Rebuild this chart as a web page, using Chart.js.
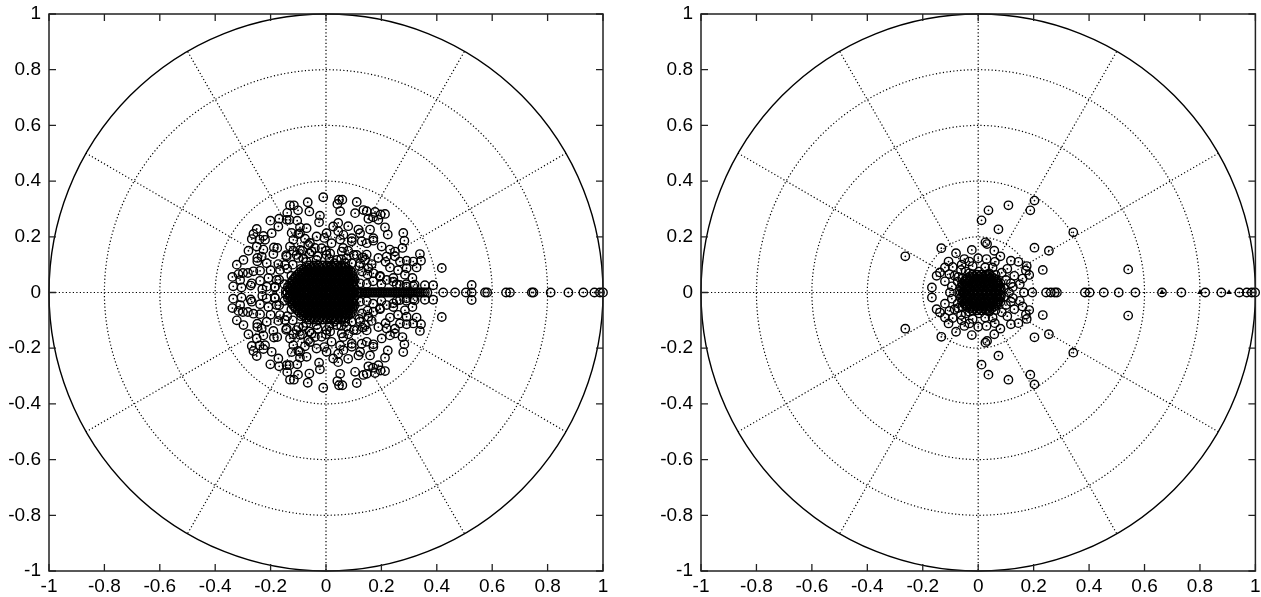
<!DOCTYPE html>
<html>
<head>
<meta charset="utf-8">
<script src="https://cdn.jsdelivr.net/npm/chart.js@4.4.0/dist/chart.umd.min.js"></script>
<style>
  body { margin: 0; background: #fff; width: 1261px; height: 597px; overflow: hidden; position: relative; }
  canvas { position: absolute; top: 0; }
  #left { left: 0; }
  #right { left: 640px; }
</style>
</head>
<body>
<canvas id="left" width="620" height="597"></canvas>
<canvas id="right" width="621" height="597"></canvas>
<script>
const tickValues = [-1, -0.8, -0.6, -0.4, -0.2, 0, 0.2, 0.4, 0.6, 0.8, 1]
const gridRadii = [0.2, 0.4, 0.6, 0.8]
const spokeAngles = [0, 30, 60, 90, 120, 150, 180, 210, 240, 270, 300, 330]

// left plot, points above the real axis
const leftUpper = [
  [-0.010,0.342],[-0.066,0.324],[-0.130,0.313],[-0.116,0.313],[-0.101,0.295],[-0.060,0.291],[-0.140,0.286],
  [-0.022,0.276],[-0.025,0.252],[-0.169,0.265],[-0.132,0.261],[-0.104,0.258],[-0.201,0.258],[-0.094,0.234],
  [-0.250,0.228],[-0.262,0.210],[-0.268,0.192],[-0.240,0.190],[-0.226,0.203],[-0.124,0.214],[-0.100,0.210],
  [-0.188,0.162],[-0.176,0.160],[-0.076,0.193],[-0.058,0.178],[-0.006,0.196],[-0.226,0.154],[-0.280,0.150],
  [-0.190,0.138],[-0.144,0.134],[-0.248,0.124],[-0.248,0.112],[-0.172,0.102],[-0.100,0.124],[-0.118,0.150],
  [-0.085,0.150],[-0.060,0.140],[-0.322,0.100],[-0.338,0.056],[-0.316,0.066],[-0.300,0.070],[-0.282,0.070],
  [-0.262,0.076],[-0.238,0.078],[-0.208,0.052],[-0.169,0.046],[-0.335,0.022],[-0.305,0.018],[-0.272,0.025],
  [-0.238,0.042],[-0.200,0.080],[-0.140,0.085],[-0.125,0.060],[-0.150,0.030],[-0.185,0.018],[-0.230,0.012],
  [-0.070,0.110],[-0.030,0.130],[-0.040,0.160],[0.000,0.150],[-0.120,0.100],[-0.090,0.085],
  [0.047,0.333],[0.059,0.333],[0.111,0.325],[0.041,0.318],[0.051,0.292],[0.105,0.285],[0.135,0.296],
  [0.147,0.292],[0.177,0.289],[0.197,0.280],[0.213,0.282],[0.044,0.250],[0.080,0.238],[0.117,0.226],
  [0.153,0.265],[0.170,0.270],[0.189,0.261],[0.213,0.234],[0.159,0.226],[0.044,0.220],[0.051,0.190],
  [0.093,0.184],[0.129,0.184],[0.171,0.186],[0.223,0.208],[0.279,0.214],[0.283,0.186],[0.276,0.160],
  [0.231,0.154],[0.062,0.160],[0.080,0.150],[0.100,0.135],[0.147,0.136],[0.132,0.126],[0.189,0.124],
  [0.165,0.102],[0.249,0.130],[0.231,0.090],[0.291,0.114],[0.339,0.138],[0.343,0.114],[0.327,0.090],
  [0.285,0.064],[0.312,0.052],[0.357,0.026],[0.387,0.026],[0.418,0.088],[0.195,0.060],[0.243,0.052],
  [0.255,0.030],[0.120,0.095],[0.130,0.075],[0.150,0.065],[0.015,0.140],[0.012,0.120],[0.030,0.105],
  [0.055,0.120],[0.070,0.105],[0.526,0.027],[0.200,0.030],[0.170,0.040],[0.290,0.030],[0.320,0.028],
  [0.215,0.110],[0.260,0.080],
  [-0.106,0.135],[-0.094,0.153],[-0.082,0.123],[-0.064,0.171],[-0.052,0.147],[-0.034,0.117],[-0.016,0.159],
  [0.002,0.135],[0.020,0.177],[0.039,0.117],[0.057,0.147],[0.075,0.123],[0.093,0.105],[0.111,0.135],
  [0.123,0.105],[0.141,0.117],[0.153,0.087],[0.171,0.069],[0.195,0.057],[0.219,0.045],[0.243,0.039],
  [0.267,0.027],[0.291,0.021],[0.315,0.023],[0.075,0.045],[0.099,0.039],[0.123,0.033],[0.147,0.031],
  [-0.148,0.099],[-0.166,0.081],[-0.178,0.045],[-0.184,0.021],[-0.142,0.129],[-0.130,0.165],[-0.118,0.189],
  [-0.094,0.213],[-0.070,0.231],[-0.034,0.201],[0.002,0.213],[0.026,0.237],[0.063,0.207],[0.093,0.195],
  [0.123,0.213],[0.147,0.177],[0.171,0.195],[0.201,0.165],[0.219,0.129],[0.249,0.147],[0.267,0.111],
  [0.291,0.087],[0.315,0.111],[-0.214,0.105],[-0.232,0.129],[-0.250,0.165],[-0.220,0.189],[-0.196,0.213],
  [-0.172,0.237],[-0.142,0.261],[-0.298,0.117],[-0.310,0.045],[-0.268,0.033],[-0.214,0.021]
]
// left plot, conjugate points below the real axis
const leftLower = [
  [-0.010,-0.342],[-0.066,-0.324],[-0.130,-0.313],[-0.116,-0.313],[-0.101,-0.295],[-0.060,-0.291],[-0.140,-0.286],
  [-0.022,-0.276],[-0.025,-0.252],[-0.169,-0.265],[-0.132,-0.261],[-0.104,-0.258],[-0.201,-0.258],[-0.094,-0.234],
  [-0.250,-0.228],[-0.262,-0.210],[-0.268,-0.192],[-0.240,-0.190],[-0.226,-0.203],[-0.124,-0.214],[-0.100,-0.210],
  [-0.188,-0.162],[-0.176,-0.160],[-0.076,-0.193],[-0.058,-0.178],[-0.006,-0.196],[-0.226,-0.154],[-0.280,-0.150],
  [-0.190,-0.138],[-0.144,-0.134],[-0.248,-0.124],[-0.248,-0.112],[-0.172,-0.102],[-0.100,-0.124],[-0.118,-0.150],
  [-0.085,-0.150],[-0.060,-0.140],[-0.322,-0.100],[-0.338,-0.056],[-0.316,-0.066],[-0.300,-0.070],[-0.282,-0.070],
  [-0.262,-0.076],[-0.238,-0.078],[-0.208,-0.052],[-0.169,-0.046],[-0.335,-0.022],[-0.305,-0.018],[-0.272,-0.025],
  [-0.238,-0.042],[-0.200,-0.080],[-0.140,-0.085],[-0.125,-0.060],[-0.150,-0.030],[-0.185,-0.018],[-0.230,-0.012],
  [-0.070,-0.110],[-0.030,-0.130],[-0.040,-0.160],[0.000,-0.150],[-0.120,-0.100],[-0.090,-0.085],
  [0.047,-0.333],[0.059,-0.333],[0.111,-0.325],[0.041,-0.318],[0.051,-0.292],[0.105,-0.285],[0.135,-0.296],
  [0.147,-0.292],[0.177,-0.289],[0.197,-0.280],[0.213,-0.282],[0.044,-0.250],[0.080,-0.238],[0.117,-0.226],
  [0.153,-0.265],[0.170,-0.270],[0.189,-0.261],[0.213,-0.234],[0.159,-0.226],[0.044,-0.220],[0.051,-0.190],
  [0.093,-0.184],[0.129,-0.184],[0.171,-0.186],[0.223,-0.208],[0.279,-0.214],[0.283,-0.186],[0.276,-0.160],
  [0.231,-0.154],[0.062,-0.160],[0.080,-0.150],[0.100,-0.135],[0.147,-0.136],[0.132,-0.126],[0.189,-0.124],
  [0.165,-0.102],[0.249,-0.130],[0.231,-0.090],[0.291,-0.114],[0.339,-0.138],[0.343,-0.114],[0.327,-0.090],
  [0.285,-0.064],[0.312,-0.052],[0.357,-0.026],[0.387,-0.026],[0.418,-0.088],[0.195,-0.060],[0.243,-0.052],
  [0.255,-0.030],[0.120,-0.095],[0.130,-0.075],[0.150,-0.065],[0.015,-0.140],[0.012,-0.120],[0.030,-0.105],
  [0.055,-0.120],[0.070,-0.105],[0.526,-0.027],[0.200,-0.030],[0.170,-0.040],[0.290,-0.030],[0.320,-0.028],
  [0.215,-0.110],[0.260,-0.080],
  [-0.106,-0.135],[-0.094,-0.153],[-0.082,-0.123],[-0.064,-0.171],[-0.052,-0.147],[-0.034,-0.117],[-0.016,-0.159],
  [0.002,-0.135],[0.020,-0.177],[0.039,-0.117],[0.057,-0.147],[0.075,-0.123],[0.093,-0.105],[0.111,-0.135],
  [0.123,-0.105],[0.141,-0.117],[0.153,-0.087],[0.171,-0.069],[0.195,-0.057],[0.219,-0.045],[0.243,-0.039],
  [0.267,-0.027],[0.291,-0.021],[0.315,-0.023],[0.075,-0.045],[0.099,-0.039],[0.123,-0.033],[0.147,-0.031],
  [-0.148,-0.099],[-0.166,-0.081],[-0.178,-0.045],[-0.184,-0.021],[-0.142,-0.129],[-0.130,-0.165],[-0.118,-0.189],
  [-0.094,-0.213],[-0.070,-0.231],[-0.034,-0.201],[0.002,-0.213],[0.026,-0.237],[0.063,-0.207],[0.093,-0.195],
  [0.123,-0.213],[0.147,-0.177],[0.171,-0.195],[0.201,-0.165],[0.219,-0.129],[0.249,-0.147],[0.267,-0.111],
  [0.291,-0.087],[0.315,-0.111],[-0.214,-0.105],[-0.232,-0.129],[-0.250,-0.165],[-0.220,-0.189],[-0.196,-0.213],
  [-0.172,-0.237],[-0.142,-0.261],[-0.298,-0.117],[-0.310,-0.045],[-0.268,-0.033],[-0.214,-0.021]
]
// dense black cluster round the origin (left): each row = [imag parts, real parts]
const leftCoreRows = [
  [[0.006, -0.006], [-0.145,-0.129,-0.113,-0.097,-0.081,-0.065,-0.049,-0.033,-0.017,-0.001,0.015,0.031,0.047,0.063,0.079,0.095]],
  [[0.0125, -0.0125], [-0.133,-0.117,-0.101,-0.085,-0.069,-0.053,-0.037,-0.021,-0.005,0.011,0.027,0.043,0.059,0.075,0.091]],
  [[0.019, -0.019], [-0.138,-0.122,-0.106,-0.090,-0.074,-0.058,-0.042,-0.026,-0.010,0.006,0.022,0.038,0.054,0.070,0.086,0.102]],
  [[0.0255, -0.0255], [-0.126,-0.110,-0.094,-0.078,-0.062,-0.046,-0.030,-0.014,0.002,0.018,0.034,0.050,0.066,0.082,0.098]],
  [[0.032, -0.032], [-0.130,-0.114,-0.098,-0.082,-0.066,-0.050,-0.034,-0.018,-0.002,0.014,0.030,0.046,0.062,0.078,0.094]],
  [[0.0385, -0.0385], [-0.122,-0.106,-0.090,-0.074,-0.058,-0.042,-0.026,-0.010,0.006,0.022,0.038,0.054,0.070,0.086,0.100]],
  [[0.045, -0.045], [-0.120,-0.104,-0.088,-0.072,-0.056,-0.040,-0.024,-0.008,0.008,0.024,0.040,0.056,0.072,0.088,0.104]],
  [[0.0515, -0.0515], [-0.112,-0.096,-0.080,-0.064,-0.048,-0.032,-0.016,0.000,0.016,0.032,0.048,0.064,0.080,0.096]],
  [[0.058, -0.058], [-0.110,-0.094,-0.078,-0.062,-0.046,-0.030,-0.014,0.002,0.018,0.034,0.050,0.066,0.082,0.098]],
  [[0.0645, -0.0645], [-0.102,-0.086,-0.070,-0.054,-0.038,-0.022,-0.006,0.010,0.026,0.042,0.058,0.074,0.090]],
  [[0.071, -0.071], [-0.096,-0.080,-0.064,-0.048,-0.032,-0.016,0.000,0.016,0.032,0.048,0.064,0.080,0.094]],
  [[0.0775, -0.0775], [-0.088,-0.072,-0.056,-0.040,-0.024,-0.008,0.008,0.024,0.040,0.056,0.072,0.088]],
  [[0.084, -0.084], [-0.080,-0.064,-0.048,-0.032,-0.016,0.000,0.016,0.032,0.048,0.064,0.080]],
  [[0.0905, -0.0905], [-0.070,-0.054,-0.038,-0.022,-0.006,0.010,0.026,0.042,0.058,0.070]],
  [[0.097, -0.097], [-0.060,-0.044,-0.028,-0.012,0.004,0.020,0.036,0.052]]
]
// real roots (left)
const leftAxisX = [
  -0.14, -0.12, -0.10, -0.08, -0.06, -0.04, -0.02, 0, 0.02, 0.04, 0.06, 0.08, 0.10,
  0.11, 0.115, 0.12, 0.126, 0.132, 0.138, 0.144, 0.15, 0.156, 0.162, 0.168, 0.174, 0.18, 0.186,
  0.192, 0.198, 0.204, 0.21, 0.216, 0.222, 0.228, 0.234, 0.24, 0.246, 0.252, 0.258, 0.264, 0.27,
  0.276, 0.282, 0.288, 0.294, 0.30, 0.306, 0.312, 0.318, 0.324, 0.33, 0.336, 0.343, 0.35, 0.357, 0.366,
  0.423, 0.466, 0.505, 0.526, 0.574, 0.582, 0.650, 0.664, 0.743, 0.749, 0.811, 0.875, 0.929, 0.969, 0.989, 1.0
]

// right plot
const rightUpper = [
  [0.203,0.330],[0.109,0.313],[0.037,0.295],[0.188,0.295],[0.012,0.259],[0.073,0.227],[0.343,0.216],
  [-0.133,0.159],[-0.263,0.130],[-0.080,0.141],[-0.023,0.153],[0.026,0.180],[0.032,0.174],[0.058,0.150],
  [0.203,0.161],[0.255,0.150],[0.000,0.123],[-0.032,0.111],[-0.062,0.081],[-0.020,0.095],[0.025,0.090],
  [0.052,0.090],[0.085,0.071],[0.118,0.114],[0.145,0.110],[0.172,0.079],[0.184,0.063],[0.233,0.081],
  [-0.138,0.072],[-0.104,0.066],[-0.072,0.056],[-0.167,0.018],[-0.074,0.039],[-0.044,0.033],[0.541,0.083],
  [0.118,0.033],[0.100,0.045],[-0.107,0.111],[-0.092,0.092],[-0.032,0.069],[-0.056,0.051],[0.063,0.063],
  [0.081,0.033],[0.093,0.015],[0.040,0.069],[0.004,0.075],
  [-0.120,0.090],[-0.150,0.060],[-0.120,0.040],[-0.095,0.022],[0.105,0.085],[0.130,0.060],[0.125,0.020],
  [0.150,0.030],[0.060,0.110],[0.080,0.130],[-0.050,0.120],[-0.060,0.100],[0.175,0.095],[0.160,0.050],
  [-0.085,0.060],[0.070,0.040],[-0.045,0.075],[0.030,0.120]
]
const rightLower = [
  [0.203,-0.330],[0.109,-0.313],[0.037,-0.295],[0.188,-0.295],[0.012,-0.259],[0.073,-0.227],[0.343,-0.216],
  [-0.133,-0.159],[-0.263,-0.130],[-0.080,-0.141],[-0.023,-0.153],[0.026,-0.180],[0.032,-0.174],[0.058,-0.150],
  [0.203,-0.161],[0.255,-0.150],[0.000,-0.123],[-0.032,-0.111],[-0.062,-0.081],[-0.020,-0.095],[0.025,-0.090],
  [0.052,-0.090],[0.085,-0.071],[0.118,-0.114],[0.145,-0.110],[0.172,-0.079],[0.184,-0.063],[0.233,-0.081],
  [-0.138,-0.072],[-0.104,-0.066],[-0.072,-0.056],[-0.167,-0.018],[-0.074,-0.039],[-0.044,-0.033],[0.541,-0.083],
  [0.118,-0.033],[0.100,-0.045],[-0.107,-0.111],[-0.092,-0.092],[-0.032,-0.069],[-0.056,-0.051],[0.063,-0.063],
  [0.081,-0.033],[0.093,-0.015],[0.040,-0.069],[0.004,-0.075],
  [-0.120,-0.090],[-0.150,-0.060],[-0.120,-0.040],[-0.095,-0.022],[0.105,-0.085],[0.130,-0.060],[0.125,-0.020],
  [0.150,-0.030],[0.060,-0.110],[0.080,-0.130],[-0.050,-0.120],[-0.060,-0.100],[0.175,-0.095],[0.160,-0.050],
  [-0.085,-0.060],[0.070,-0.040],[-0.045,-0.075],[0.030,-0.120]
]
const rightCoreRows = [
  [[0.006, -0.006], [-0.066,-0.050,-0.034,-0.018,-0.002,0.014,0.030,0.046,0.062,0.078]],
  [[0.0125, -0.0125], [-0.058,-0.042,-0.026,-0.010,0.006,0.022,0.038,0.054,0.070,0.082]],
  [[0.019, -0.019], [-0.063,-0.047,-0.031,-0.015,0.001,0.017,0.033,0.049,0.065,0.078]],
  [[0.0255, -0.0255], [-0.055,-0.039,-0.023,-0.007,0.009,0.025,0.041,0.057,0.073]],
  [[0.032, -0.032], [-0.058,-0.042,-0.026,-0.010,0.006,0.022,0.038,0.054,0.070]],
  [[0.0385, -0.0385], [-0.050,-0.034,-0.018,-0.002,0.014,0.030,0.046,0.062]],
  [[0.045, -0.045], [-0.046,-0.030,-0.014,0.002,0.018,0.034,0.050,0.064]],
  [[0.0515, -0.0515], [-0.038,-0.022,-0.006,0.010,0.026,0.042,0.056]],
  [[0.058, -0.058], [-0.030,-0.014,0.002,0.018,0.034,0.048]],
  [[0.0645, -0.0645], [-0.020,-0.004,0.012,0.028,0.040]]
]
const rightAxisX = [
  -0.102, -0.056, 0.111, 0.165, 0.195, 0.245, 0.262, 0.276, 0.284, 0.385, 0.402, 0.453, 0.507, 0.567,
  0.663, 0.733, 0.819, 0.877, 0.942, 0.969, 0.987, 0.999
]
const rightTriangles = [[0.663, 0], [0.80, 0], [0.905, 0]]

const fmt = (v) => String(Math.round(v * 10) / 10)
const font = { family: "'Liberation Sans', Arial, sans-serif", size: 19 }

// polar grid, unit circle, frame and inward ticks (gnuplot style)
const polarFrame = {
  id: "polarFrame",
  beforeDatasetsDraw(chart) {
    const { ctx, scales: { x, y } } = chart
    const cx = x.getPixelForValue(0)
    const cy = y.getPixelForValue(0)
    const rx = (r) => x.getPixelForValue(r) - cx
    const ry = (r) => cy - y.getPixelForValue(r)
    ctx.save()
    ctx.lineWidth = 1.2
    ctx.strokeStyle = "#000"
    ctx.setLineDash([1.2, 2.3])
    gridRadii.forEach((r) => {
      ctx.beginPath()
      ctx.ellipse(cx, cy, rx(r), ry(r), 0, 0, Math.PI * 2)
      ctx.stroke()
    })
    spokeAngles.forEach((deg) => {
      const t = (deg * Math.PI) / 180
      ctx.beginPath()
      ctx.moveTo(cx, cy)
      ctx.lineTo(x.getPixelForValue(Math.cos(t)), y.getPixelForValue(Math.sin(t)))
      ctx.stroke()
    })
    ctx.setLineDash([])
    ctx.lineWidth = 1.4
    ctx.beginPath()
    ctx.ellipse(cx, cy, rx(1), ry(1), 0, 0, Math.PI * 2)
    ctx.stroke()
    ctx.restore()
  },
  afterDatasetsDraw(chart) {
    const { ctx, chartArea: a, scales: { x, y } } = chart
    const len = 7
    ctx.save()
    ctx.strokeStyle = "#222"
    ctx.lineWidth = 1.5
    ctx.strokeRect(a.left, a.top, a.right - a.left, a.bottom - a.top)
    ctx.lineWidth = 1.3
    ctx.beginPath()
    x.ticks.forEach((t) => {
      const px = x.getPixelForValue(t.value)
      ctx.moveTo(px, a.bottom); ctx.lineTo(px, a.bottom - len)
      ctx.moveTo(px, a.top); ctx.lineTo(px, a.top + len)
    })
    y.ticks.forEach((t) => {
      const py = y.getPixelForValue(t.value)
      ctx.moveTo(a.left, py); ctx.lineTo(a.left + len, py)
      ctx.moveTo(a.right, py); ctx.lineTo(a.right - len, py)
    })
    ctx.stroke()
    ctx.restore()
  },
}

function makeChart(id, points, triangles, yWidth, padRight) {
  return new Chart(document.getElementById(id), {
    type: "scatter",
    data: {
      datasets: [
        { data: points, pointStyle: "circle", pointRadius: 4.2, borderWidth: 1.4,
          borderColor: "#000", backgroundColor: "rgba(0,0,0,0)", clip: false },
        { data: points, pointStyle: "circle", pointRadius: 0.9, borderWidth: 0,
          backgroundColor: "#000", clip: false },
        { data: triangles, pointStyle: "triangle", pointRadius: 3.2, borderWidth: 0,
          backgroundColor: "#000", clip: false },
      ],
    },
    options: {
      responsive: false,
      animation: false,
      events: [],
      layout: { padding: { top: 14, right: padRight, left: 0, bottom: 0 } },
      plugins: { legend: { display: false }, tooltip: { enabled: false } },
      scales: {
        x: {
          type: "linear", min: -1, max: 1,
          grid: { display: false, drawTicks: false }, border: { display: false },
          afterBuildTicks: (s) => { s.ticks = tickValues.map((v) => ({ value: v })) },
          afterFit: (s) => { s.height = 26; s.paddingLeft = 0; s.paddingRight = 0 },
          ticks: { padding: 4, color: "#000", font, callback: fmt, maxRotation: 0, autoSkip: false },
        },
        y: {
          type: "linear", min: -1, max: 1,
          grid: { display: false, drawTicks: false }, border: { display: false },
          afterBuildTicks: (s) => { s.ticks = tickValues.map((v) => ({ value: v })) },
          afterFit: (s) => { s.width = yWidth; s.paddingTop = 0; s.paddingBottom = 0 },
          ticks: { padding: 8, color: "#000", font, callback: fmt, autoSkip: false },
        },
      },
    },
    plugins: [polarFrame],
  })
}

const expandRows = (rows) => rows.flatMap(([ys, xs]) => ys.flatMap((y) => xs.map((x) => [x, y])))

const leftPoints = [...leftUpper, ...leftLower, ...expandRows(leftCoreRows), ...leftAxisX.map((v) => [v, 0])]
const rightPoints = [...rightUpper, ...rightLower, ...expandRows(rightCoreRows), ...rightAxisX.map((v) => [v, 0])]

makeChart("left", leftPoints, [], 49, 17)
makeChart("right", rightPoints, rightTriangles, 61, 4)
</script>
</body>
</html>
